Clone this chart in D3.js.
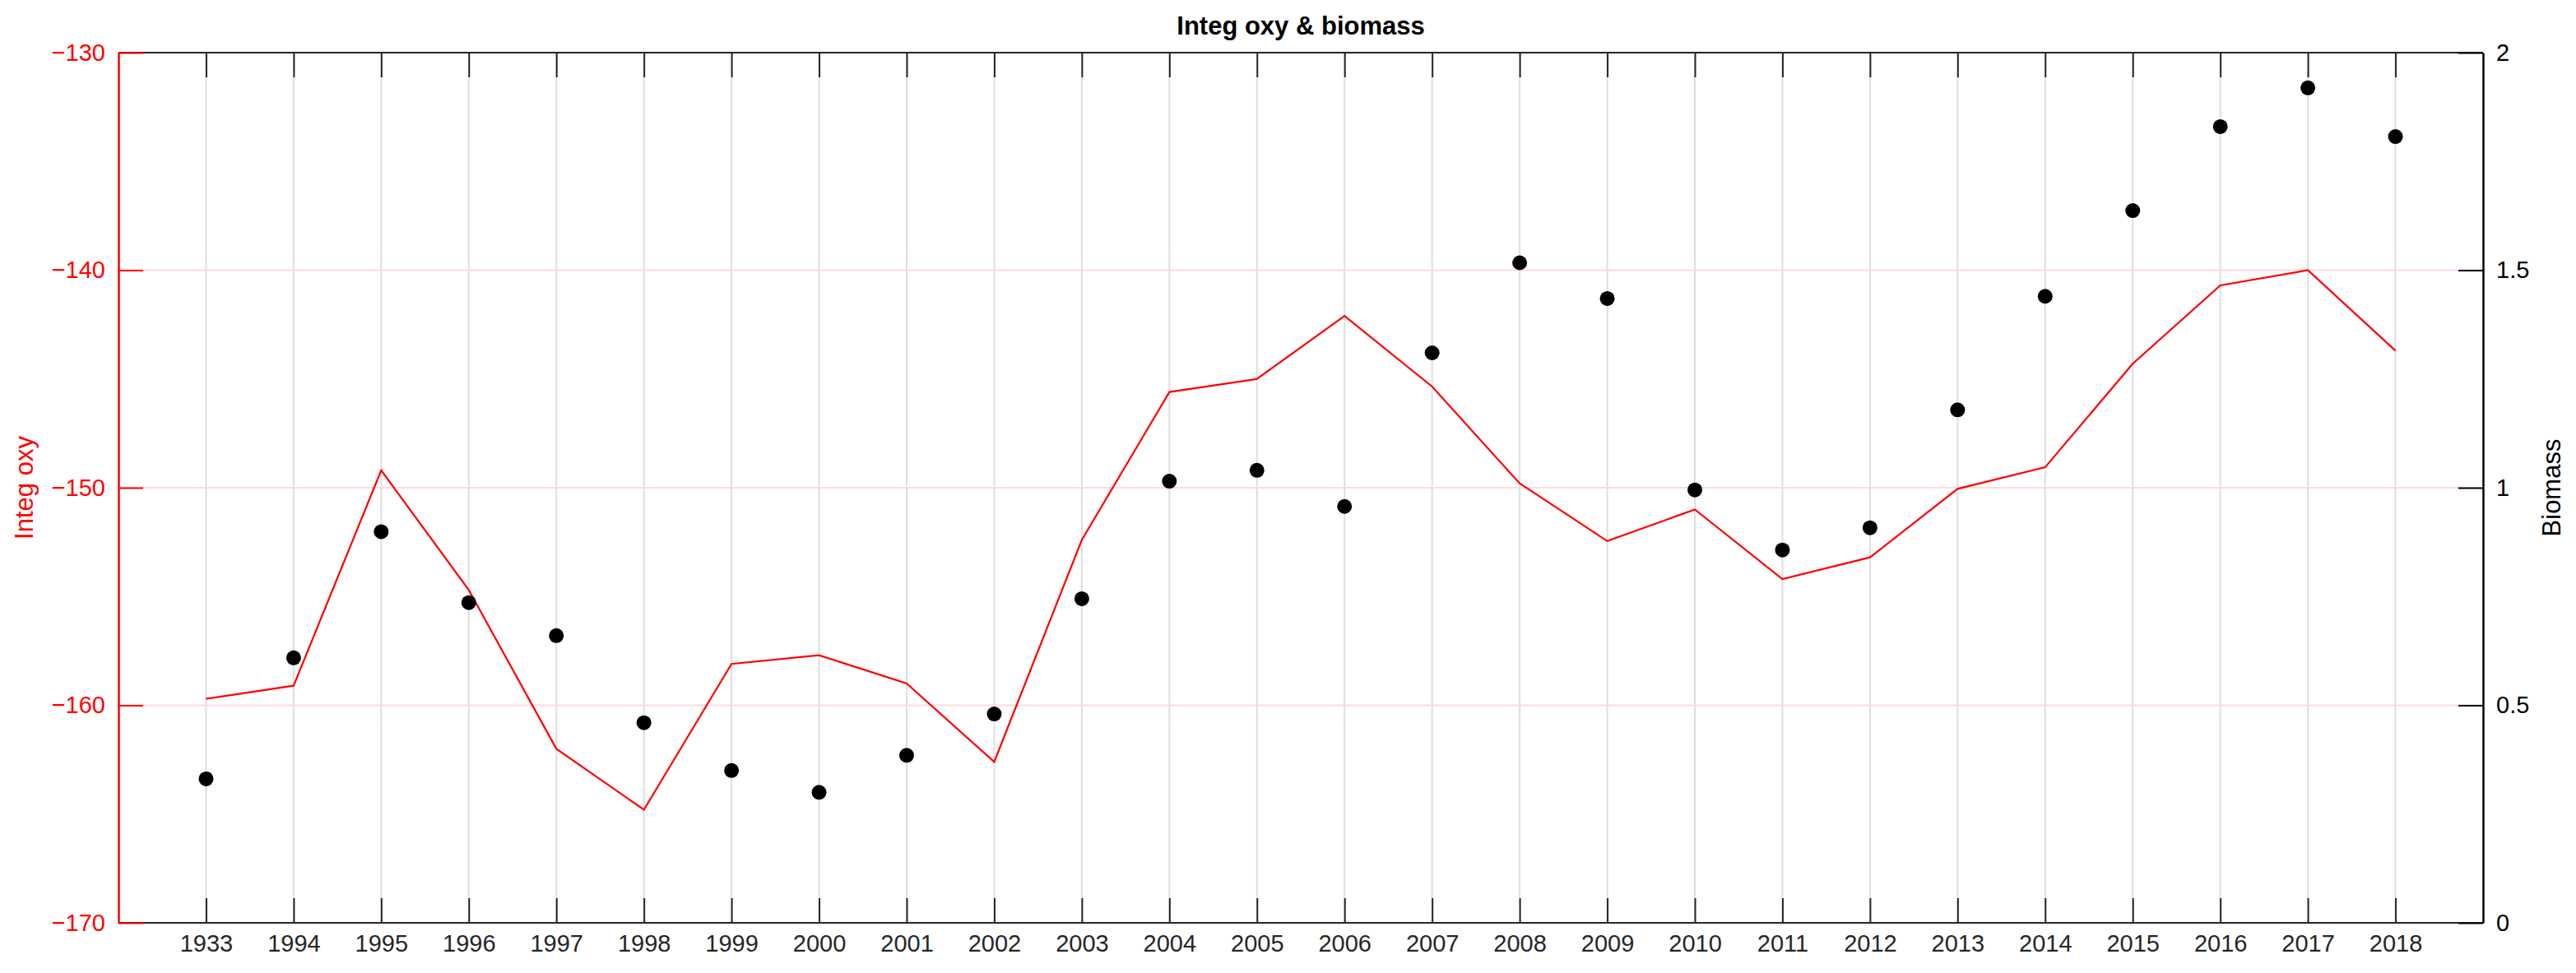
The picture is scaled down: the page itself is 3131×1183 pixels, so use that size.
<!DOCTYPE html>
<html><head><meta charset="utf-8">
<script src="https://cdn.jsdelivr.net/npm/d3@7"></script>
<style>body{margin:0;background:#fff}text{font-family:"Liberation Sans",Arial,sans-serif}</style>
</head><body><svg id="c" width="3131" height="1183"></svg>
<script>
const years = ["1933","1994","1995","1996","1997","1998","1999","2000","2001","2002","2003","2004","2005","2006","2007","2008","2009","2010","2011","2012","2013","2014","2015","2016","2017","2018"];
const oxy = [-159.7,-159.1,-149.2,-154.7,-162.0,-164.8,-158.1,-157.7,-159.0,-162.6,-152.4,-145.6,-145.0,-142.1,-145.35,-149.8,-152.45,-151.0,-154.2,-153.2,-150.05,-149.06,-144.3,-140.7,-140.0,-143.7];
const biomass = [0.331,0.609,0.899,0.736,0.66,0.46,0.35,0.30,0.385,0.48,0.745,1.015,1.04,0.957,1.31,1.517,1.435,0.995,0.857,0.908,1.179,1.44,1.637,1.83,1.919,1.807];
const leftTicks = [-170,-160,-150,-140,-130];
const rightTicks = [0,0.5,1,1.5,2];

const svg = d3.select("#c");
const L=144,R=3018,T=64,B=1122;
const x = d3.scaleLinear().domain([-1,years.length]).range([L,R]);
const yL = d3.scaleLinear().domain([-170,-130]).range([B,T]);
const yR = d3.scaleLinear().domain([0,2]).range([B,T]);
const idx = d3.range(years.length);

// grids
svg.append("g").selectAll("line").data(idx).join("line")
  .attr("x1",d=>x(d)).attr("x2",d=>x(d)).attr("y1",T).attr("y2",B)
  .attr("stroke","#dedede").attr("stroke-width",2);
svg.append("g").selectAll("line").data(leftTicks.slice(1,-1)).join("line")
  .attr("x1",L).attr("x2",R).attr("y1",d=>yL(d)).attr("y2",d=>yL(d))
  .attr("stroke","#fbdcdc").attr("stroke-width",2);

// box
svg.append("line").attr("x1",L).attr("x2",R).attr("y1",T).attr("y2",T).attr("stroke","#262626").attr("stroke-width",2);
svg.append("line").attr("x1",L).attr("x2",R).attr("y1",B).attr("y2",B).attr("stroke","#262626").attr("stroke-width",2);

// x axis ticks
const xb = svg.append("g").attr("transform",`translate(0,${B})`)
  .call(d3.axisBottom(x).tickValues(idx).tickFormat(i=>years[i]).tickSizeInner(-30).tickSizeOuter(0).tickPadding(14));
xb.select(".domain").remove();
xb.selectAll("line").attr("stroke","#262626").attr("stroke-width",2);
xb.selectAll("text").attr("font-size",29).attr("fill","#262626");
const xt = svg.append("g").attr("transform",`translate(0,${T})`)
  .call(d3.axisTop(x).tickValues(idx).tickFormat("").tickSizeInner(-30).tickSizeOuter(0));
xt.select(".domain").remove();
xt.selectAll("line").attr("stroke","#262626").attr("stroke-width",2);

// left axis
const la = svg.append("g").attr("transform",`translate(${L},0)`)
  .call(d3.axisLeft(yL).tickValues(leftTicks).tickFormat(d3.format("d")).tickSizeInner(-30).tickSizeOuter(0).tickPadding(16));
la.select(".domain").attr("stroke","red").attr("stroke-width",2.5);
la.selectAll("line").attr("stroke","red").attr("stroke-width",2);
la.selectAll("text").attr("font-size",29).attr("fill","red");

// right axis
const ra = svg.append("g").attr("transform",`translate(${R},0)`)
  .call(d3.axisRight(yR).tickValues(rightTicks).tickFormat(d=>String(d)).tickSizeInner(-30).tickSizeOuter(0).tickPadding(16));
ra.select(".domain").attr("stroke","#000").attr("stroke-width",2.5);
ra.selectAll("line").attr("stroke","#000").attr("stroke-width",2);
ra.selectAll("text").attr("font-size",29).attr("fill","#000");

// line
svg.append("path").datum(idx)
  .attr("d",d3.line().x(i=>x(i)).y(i=>yL(oxy[i])))
  .attr("fill","none").attr("stroke","red").attr("stroke-width",2.2);

// dots
svg.append("g").selectAll("circle").data(idx).join("circle")
  .attr("cx",i=>x(i)).attr("cy",i=>yR(biomass[i])).attr("r",9).attr("fill","#000");

// labels
svg.append("text").attr("x",(L+R)/2).attr("y",42).attr("text-anchor","middle")
  .attr("font-size",31).attr("font-weight","bold").text("Integ oxy & biomass");
svg.append("text").attr("transform",`translate(40,${(T+B)/2}) rotate(-90)`).attr("text-anchor","middle")
  .attr("font-size",31).attr("fill","red").text("Integ oxy");
svg.append("text").attr("transform",`translate(3112,${(T+B)/2}) rotate(-90)`).attr("text-anchor","middle")
  .attr("font-size",31).attr("fill","#000").text("Biomass");
</script></body></html>
